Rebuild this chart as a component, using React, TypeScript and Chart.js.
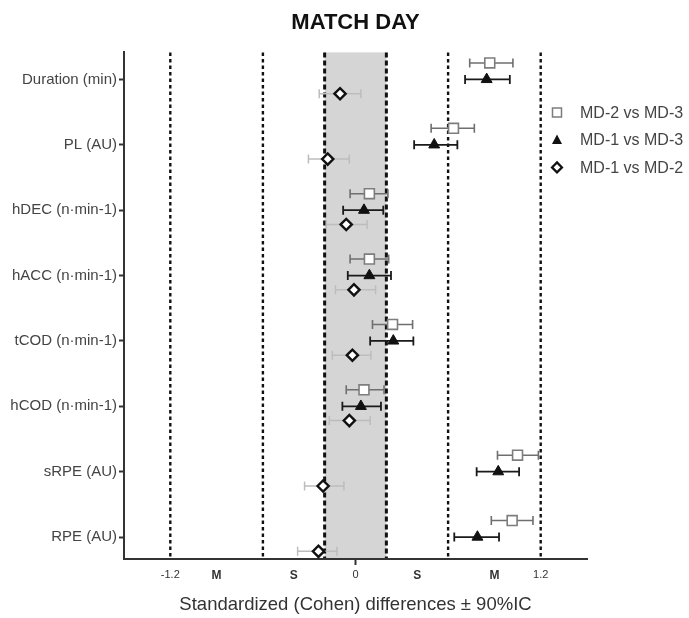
import React, { useEffect, useRef } from 'react';
import { Chart, registerables } from 'chart.js';

Chart.register(...registerables);

// ---------- data ----------
const categories = [
  'Duration (min)',
  'PL (AU)',
  'hDEC (n·min-1)',
  'hACC (n·min-1)',
  'tCOD (n·min-1)',
  'hCOD (n·min-1)',
  'sRPE (AU)',
  'RPE (AU)',
];

const seriesNames = ['MD-2 vs MD-3', 'MD-1 vs MD-3', 'MD-1 vs MD-2'];

const md2vsMd3 = [0.87, 0.635, 0.09, 0.09, 0.24, 0.055, 1.05, 1.015];
const md2vsMd3Low = [0.74, 0.49, -0.035, -0.035, 0.11, -0.06, 0.92, 0.88];
const md2vsMd3High = [1.02, 0.77, 0.21, 0.215, 0.37, 0.185, 1.185, 1.15];

const md1vsMd3 = [0.85, 0.51, 0.055, 0.09, 0.245, 0.035, 0.925, 0.79];
const md1vsMd3Low = [0.71, 0.38, -0.08, -0.05, 0.095, -0.085, 0.785, 0.64];
const md1vsMd3High = [1.0, 0.66, 0.18, 0.23, 0.375, 0.165, 1.06, 0.93];

const md1vsMd2 = [-0.1, -0.18, -0.06, -0.01, -0.02, -0.04, -0.21, -0.24];
const md1vsMd2Low = [-0.235, -0.305, -0.19, -0.13, -0.15, -0.17, -0.33, -0.375];
const md1vsMd2High = [0.035, -0.04, 0.075, 0.13, 0.1, 0.095, -0.075, -0.12];

const xTickValues = [-1.2, -0.9, -0.4, 0, 0.4, 0.9, 1.2];
const xTickLabels = ['-1.2', 'M', 'S', '0', 'S', 'M', '1.2'];
const thresholdLines = [-1.2, -0.6, -0.2, 0.2, 0.6, 1.2];
const trivialBand = [-0.2, 0.2];

// ---------- styling / layout ----------
const FONT = "'Liberation Sans', Arial, Helvetica, sans-serif";
const rowOffsets = [-0.252, 0, 0.219];

const seriesStyles = [
  { pointStyle: 'rect', radius: 7, border: '#7d7d7d', fill: '#ffffff', borderWidth: 1.6, bar: '#6f6f6f', barWidth: 1.6 },
  { pointStyle: 'triangle', radius: 6.3, border: '#111111', fill: '#111111', borderWidth: 1, bar: '#1a1a1a', barWidth: 1.8 },
  { pointStyle: 'rectRot', radius: 5.6, border: '#111111', fill: '#ffffff', borderWidth: 2.4, bar: '#bdbdbd', barWidth: 1.5 },
];

const seriesValues = [md2vsMd3, md1vsMd3, md1vsMd2];
const seriesLow = [md2vsMd3Low, md1vsMd3Low, md1vsMd2Low];
const seriesHigh = [md2vsMd3High, md1vsMd3High, md1vsMd2High];

const backgroundPlugin = {
  id: 'forestBackground',
  beforeDatasetsDraw(chart: any) {
    const { ctx, chartArea, scales } = chart;
    const xs = scales.x;
    const ys = scales.y;
    ctx.save();
    // trivial band
    const b0 = xs.getPixelForValue(trivialBand[0]);
    const b1 = xs.getPixelForValue(trivialBand[1]);
    ctx.fillStyle = '#d5d5d5';
    ctx.fillRect(b0, chartArea.top, b1 - b0, chartArea.bottom - chartArea.top - 1);
    // threshold lines
    thresholdLines.forEach((v) => {
      const x = xs.getPixelForValue(v);
      const inner = Math.abs(v) < 0.3;
      ctx.beginPath();
      ctx.strokeStyle = '#111';
      ctx.lineWidth = inner ? 3 : 2.4;
      ctx.setLineDash(inner ? [5, 3] : [3.5, 3]);
      ctx.moveTo(x, chartArea.top);
      ctx.lineTo(x, chartArea.bottom - 1);
      ctx.stroke();
    });
    ctx.setLineDash([]);
    // error bars
    chart.data.datasets.forEach((ds: any, di: number) => {
      const st = seriesStyles[di];
      const lo = seriesLow[di];
      const hi = seriesHigh[di];
      ctx.strokeStyle = st.bar;
      ctx.lineWidth = st.barWidth;
      ds.data.forEach((pt: any, j: number) => {
        const y = ys.getPixelForValue(pt.y);
        const x1 = xs.getPixelForValue(lo[j]);
        const x2 = xs.getPixelForValue(hi[j]);
        ctx.beginPath();
        ctx.moveTo(x1, y);
        ctx.lineTo(x2, y);
        ctx.moveTo(x1, y - 4.5);
        ctx.lineTo(x1, y + 4.5);
        ctx.moveTo(x2, y - 4.5);
        ctx.lineTo(x2, y + 4.5);
        ctx.stroke();
      });
    });
    ctx.restore();
  },
};

const legendPlugin = {
  id: 'sideLegend',
  afterDraw(chart: any) {
    const { ctx, chartArea } = chart;
    const lx = chartArea.right - 30;
    const ly = chartArea.top + 60;
    ctx.save();
    seriesNames.forEach((name, i) => {
      const st = seriesStyles[i];
      const cy = ly + i * 27.5;
      ctx.beginPath();
      if (st.pointStyle === 'rect') {
        ctx.rect(lx - 4.5, cy - 4.5, 9, 9);
        ctx.fillStyle = st.fill;
        ctx.fill();
        ctx.lineWidth = 1.5;
        ctx.strokeStyle = st.border;
        ctx.stroke();
      } else if (st.pointStyle === 'triangle') {
        ctx.moveTo(lx, cy - 5.5);
        ctx.lineTo(lx + 5, cy + 4);
        ctx.lineTo(lx - 5, cy + 4);
        ctx.closePath();
        ctx.fillStyle = st.fill;
        ctx.fill();
      } else {
        ctx.moveTo(lx, cy - 5);
        ctx.lineTo(lx + 5, cy);
        ctx.lineTo(lx, cy + 5);
        ctx.lineTo(lx - 5, cy);
        ctx.closePath();
        ctx.fillStyle = st.fill;
        ctx.fill();
        ctx.lineWidth = 2.2;
        ctx.strokeStyle = st.border;
        ctx.stroke();
      }
      ctx.fillStyle = '#444';
      ctx.font = `16px ${FONT}`;
      ctx.textAlign = 'left';
      ctx.textBaseline = 'middle';
      ctx.fillText(name, lx + 23, cy + 1);
    });
    ctx.restore();
  },
};

export default function App() {
  const ref = useRef<HTMLCanvasElement>(null);

  useEffect(() => {
    const canvas = ref.current;
    if (!canvas) return;
    Chart.defaults.font.family = FONT;

    const datasets = seriesNames.map((name, di) => {
      const st = seriesStyles[di];
      return {
        label: name,
        data: seriesValues[di].map((v, j) => ({ x: v, y: j + rowOffsets[di] })),
        pointStyle: st.pointStyle,
        pointRadius: st.radius,
        pointBorderColor: st.border,
        pointBackgroundColor: st.fill,
        pointBorderWidth: st.borderWidth,
        showLine: false,
      };
    });

    const chart = new Chart(canvas, {
      type: 'scatter',
      data: { datasets } as any,
      options: {
        animation: false,
        responsive: true,
        maintainAspectRatio: false,
        layout: { padding: { left: 0, right: 102, top: 0, bottom: 0 } },
        plugins: {
          legend: { display: false },
          tooltip: { enabled: false },
          title: {
            display: true,
            text: 'MATCH DAY',
            fullSize: false,
            color: '#111',
            font: { size: 22, weight: 'bold', family: FONT, lineHeight: 1.2 },
            padding: { top: 10, bottom: 16 },
          },
        },
        scales: {
          x: {
            type: 'linear',
            min: -1.5,
            max: 1.5,
            afterFit(scale: any) {
              scale.height = 59;
            },
            afterBuildTicks(scale: any) {
              scale.ticks = xTickValues.map((v) => ({ value: v }));
            },
            ticks: {
              autoSkip: false,
              maxRotation: 0,
              minRotation: 0,
              padding: 3,
              color: '#333',
              callback: (_v: any, i: number) => xTickLabels[i],
              font: (ctx: any) => {
                const lab = xTickLabels[ctx.index];
                const bold = lab === 'M' || lab === 'S';
                return { size: bold ? 12 : 11, weight: bold ? 'bold' : 'normal', family: FONT };
              },
            },
            grid: {
              drawOnChartArea: false,
              drawTicks: true,
              tickLength: 6,
              tickWidth: 2,
              tickColor: (ctx: any) => (ctx.tick && ctx.tick.value === 0 ? '#333' : 'rgba(0,0,0,0)'),
            },
            border: { display: true, color: '#333', width: 2 },
            title: {
              display: true,
              text: 'Standardized (Cohen) differences ± 90%IC',
              color: '#333',
              font: { size: 18.5, family: FONT },
              padding: { top: 0, bottom: 2 },
            },
          },
          y: {
            type: 'linear',
            reverse: true,
            min: -0.413,
            max: 7.336,
            afterFit(scale: any) {
              scale.width = 124;
            },
            afterBuildTicks(scale: any) {
              scale.ticks = categories.map((_c, i) => ({ value: i }));
            },
            ticks: {
              autoSkip: false,
              padding: 2,
              color: '#444',
              font: { size: 15, family: FONT },
              callback: (v: any) => categories[Math.round(Number(v))],
            },
            grid: {
              drawOnChartArea: false,
              drawTicks: true,
              tickLength: 5,
              tickWidth: 2,
              tickColor: '#333',
            },
            border: { display: true, color: '#333', width: 2 },
          },
        },
      },
      plugins: [backgroundPlugin, legendPlugin],
    } as any);

    return () => chart.destroy();
  }, []);

  return (
    <>
      <style>{'html,body{margin:0;padding:0;overflow:hidden;background:#fff;}'}</style>
      <div style={{ position: 'relative', width: 689, height: 618 }}>
        <canvas ref={ref} />
      </div>
    </>
  );
}
